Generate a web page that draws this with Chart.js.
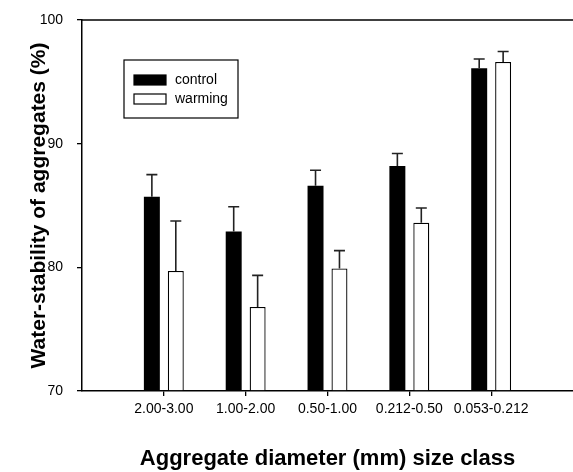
<!DOCTYPE html>
<html lang="en">
  <head>
    <meta charset="UTF-8" />
    <title>Water-stability of aggregates</title>
    <style>
      body { margin: 0; background: #fff; }
      canvas { display: block; }
    </style>
  </head>
  <body>
    <canvas id="myChart" width="573" height="472"></canvas>
  </body>
</html>
<script src="https://cdn.jsdelivr.net/npm/chart.js"></script>

<script>
  // size classes (mm)
  const categories = ["2.00-3.00", "1.00-2.00", "0.50-1.00", "0.212-0.50", "0.053-0.212"];
  const control = [85.7, 82.9, 86.6, 88.2, 96.1];
  const controlErr = [1.8, 2.0, 1.25, 1.0, 0.75];
  const warming = [79.7, 76.8, 79.9, 83.6, 96.6];
  const warmingErr = [4.05, 2.55, 1.45, 1.2, 0.85];
  const yTicks = [70, 80, 90, 100];

  const ctx = document.getElementById("myChart").getContext("2d");
  const FONT = "Arial, 'Liberation Sans', sans-serif";

  function toPoints(arr) {
    return arr.map((v, i) => ({ x: i + 1, y: v }));
  }

  // error bars, upward only
  const errorBars = {
    id: "errorBars",
    afterDatasetsDraw(chart) {
      const c = chart.ctx;
      const y = chart.scales.y;
      chart.data.datasets.forEach((ds, di) => {
        const meta = chart.getDatasetMeta(di);
        meta.data.forEach((bar, i) => {
          const top = y.getPixelForValue(ds.data[i].y + ds.errors[i]);
          c.save();
          c.strokeStyle = "#222";
          c.lineWidth = 1.6;
          c.beginPath();
          c.moveTo(bar.x, bar.y);
          c.lineTo(bar.x, top);
          c.moveTo(bar.x - 5.5, top);
          c.lineTo(bar.x + 5.5, top);
          c.stroke();
          c.restore();
        });
      });
    },
  };

  // top frame line + boxed legend
  const frame = {
    id: "frame",
    afterDraw(chart) {
      const c = chart.ctx;
      const a = chart.chartArea;
      c.save();
      c.strokeStyle = "#000";
      c.lineWidth = 1.5;
      c.beginPath();
      c.moveTo(a.left, a.top);
      c.lineTo(a.right, a.top);
      c.stroke();

      // legend box
      const lx = a.left + 42, ly = a.top + 40;
      c.lineWidth = 1.2;
      c.strokeRect(lx, ly, 114, 58);
      c.font = "14px " + FONT;
      c.textBaseline = "middle";
      c.fillStyle = "#000";
      chart.data.datasets.forEach((ds, i) => {
        const sy = ly + 15 + i * 19;
        c.fillStyle = ds.backgroundColor;
        c.fillRect(lx + 10, sy, 32, 10);
        c.strokeStyle = "#000";
        c.lineWidth = 1.2;
        c.strokeRect(lx + 10, sy, 32, 10);
        c.fillStyle = "#000";
        c.fillText(ds.label, lx + 51, sy + 5);
      });
      c.restore();
    },
  };

  const myChart = new Chart(ctx, {
    type: "bar",
    data: {
      datasets: [
        {
          label: "control",
          data: toPoints(control),
          errors: controlErr,
          backgroundColor: "#000",
          borderColor: "#000",
          borderWidth: 0,
          base: 70,
        },
        {
          label: "warming",
          data: toPoints(warming),
          errors: warmingErr,
          backgroundColor: "#fff",
          borderColor: "#000",
          borderWidth: 1.3,
          borderSkipped: "bottom",
          base: 70,
        },
      ],
    },
    options: {
      responsive: false,
      animation: false,
      layout: { padding: { top: 20, left: 0, right: 0, bottom: 0 } },
      barPercentage: 0.667,
      categoryPercentage: 0.585,
      plugins: {
        legend: { display: false },
        tooltip: { enabled: false },
      },
      scales: {
        x: {
          type: "linear",
          offset: false,
          min: 0,
          max: 6,
          afterBuildTicks: (s) => {
            s.ticks = categories.map((c, i) => ({ value: i + 1 }));
          },
          afterFit: (s) => {
            s.height = 81;
            s.paddingLeft = 0;
            s.paddingRight = 0;
          },
          ticks: {
            callback: (v) => categories[v - 1] || "",
            font: { family: FONT, size: 14 },
            color: "#000",
            padding: 5,
            maxRotation: 0,
          },
          grid: {
            display: true,
            offset: false,
            drawOnChartArea: false,
            drawTicks: true,
            tickLength: 5,
            color: "#000",
            lineWidth: 1.3,
          },
          border: { display: true, color: "#000", width: 1.5 },
          title: {
            display: true,
            text: "Aggregate diameter (mm) size class",
            font: { family: FONT, size: 22, weight: "bold" },
            color: "#000",
            padding: { top: 0, bottom: 0 },
          },
        },
        y: {
          min: 70,
          max: 100,
          afterBuildTicks: (s) => {
            s.ticks = yTicks.map((v) => ({ value: v }));
          },
          afterFit: (s) => {
            s.width = 82;
            s.paddingTop = 0;
            s.paddingBottom = 0;
          },
          ticks: {
            font: { family: FONT, size: 14 },
            color: "#000",
            padding: 14,
          },
          grid: {
            display: true,
            drawOnChartArea: false,
            drawTicks: true,
            tickLength: 5,
            color: "#000",
            lineWidth: 1.3,
          },
          border: { display: true, color: "#000", width: 1.5 },
          title: {
            display: true,
            text: "Water-stability of aggregates (%)",
            font: { family: FONT, size: 21, weight: "bold" },
            color: "#000",
            padding: { top: 27, bottom: 0 },
          },
        },
      },
    },
    plugins: [errorBars, frame],
  });
</script>
